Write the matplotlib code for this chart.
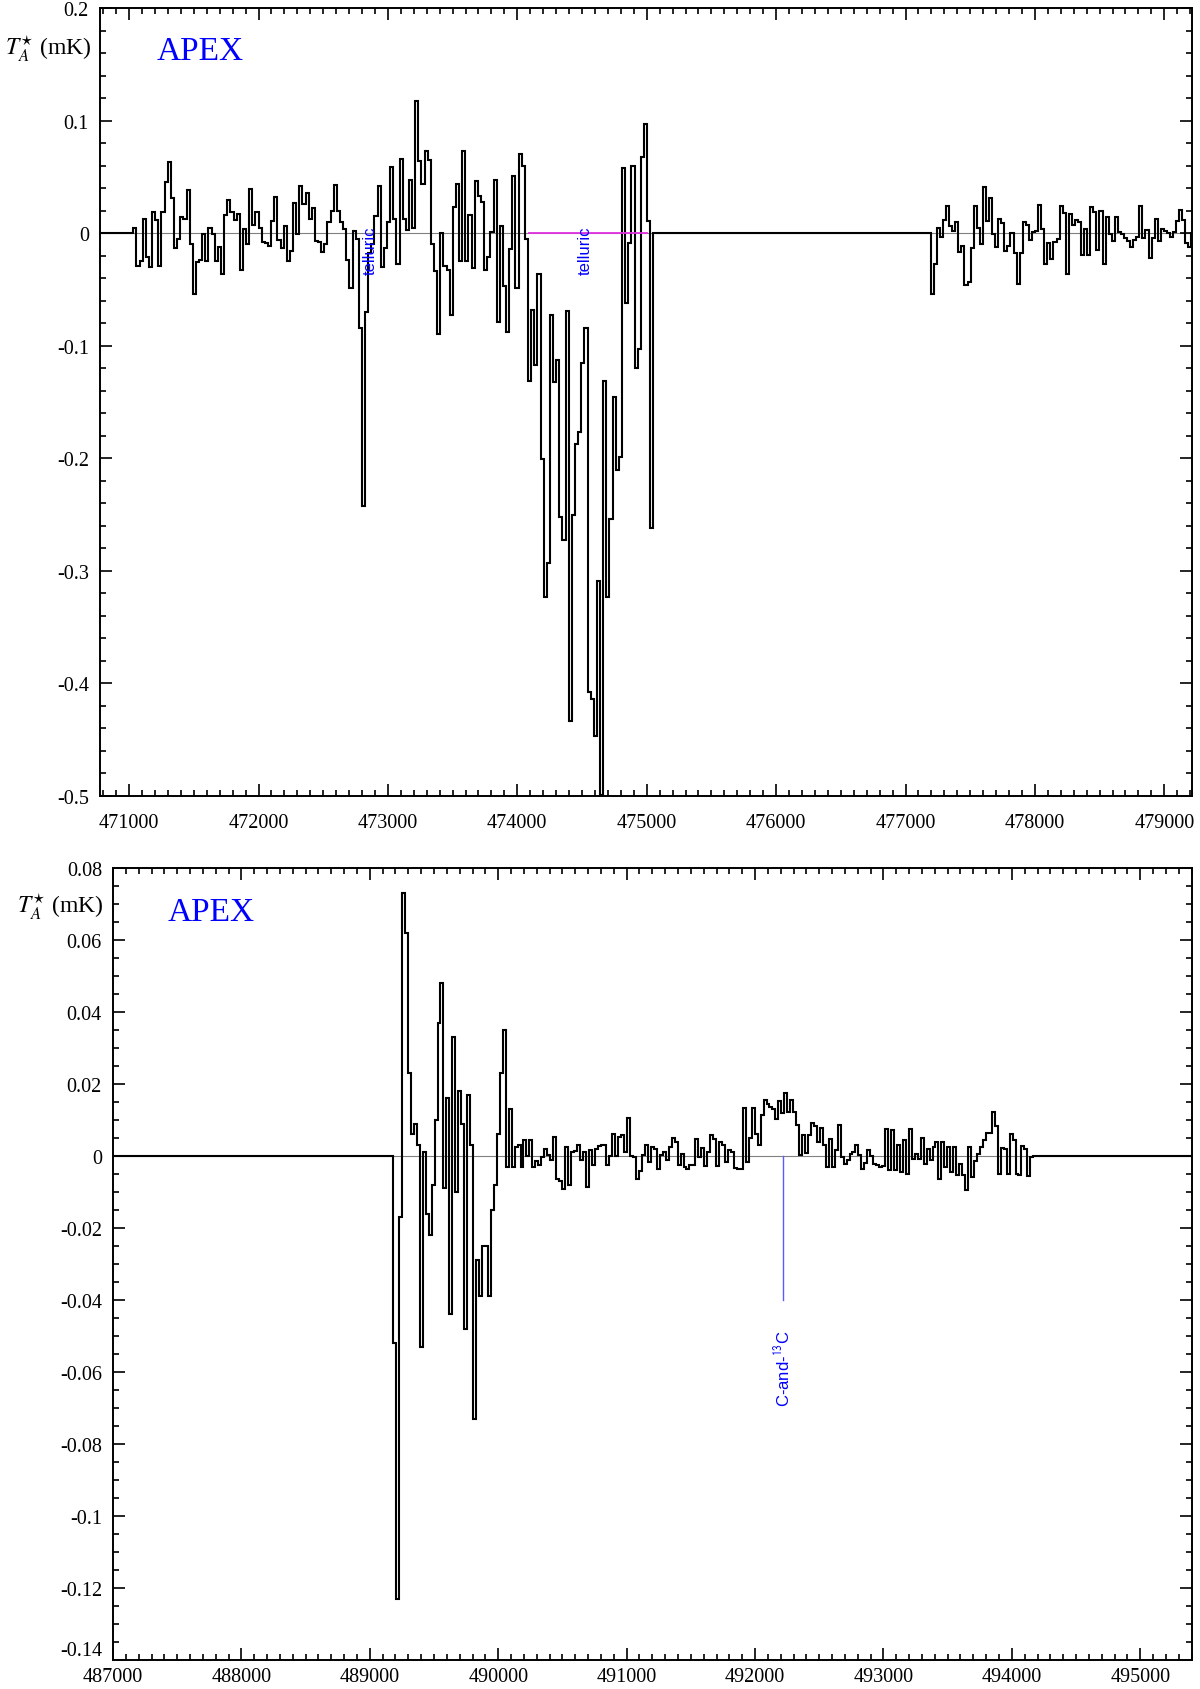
import numpy as np
import matplotlib
matplotlib.use("Agg")
import matplotlib.pyplot as plt
from matplotlib.ticker import MultipleLocator, FuncFormatter

plt.rcParams['font.family'] = ['Liberation Serif', 'DejaVu Serif']
plt.rcParams['mathtext.fontset'] = 'stix'
plt.rcParams['axes.unicode_minus'] = False

# ---------------- data ----------------
# top panel, first block of channels (MHz range and T_A* values)
top_seg1_range = (471032, 475051)
top_seg1_values = [
    0.005, -0.029, -0.025, 0.013, -0.021, -0.030, 0.019, 0.012, -0.029, 0.019,
    0.045, 0.063, 0.031, -0.013, -0.005, 0.014, 0.013, 0.038, -0.010, -0.054,
    -0.026, -0.024, -0.001, -0.025, 0.005, -0.001, -0.025, -0.012, -0.036, 0.016,
    0.029, 0.019, 0.012, 0.017, -0.033, 0.004, -0.010, 0.039, 0.007, 0.019,
    0.005, -0.008, -0.009, -0.011, 0.011, 0.032, -0.006, -0.013, 0.006, -0.025,
    -0.016, 0.027, -0.001, 0.042, 0.026, 0.036, 0.013, 0.022, -0.007, -0.008,
    -0.017, -0.010, 0.010, 0.020, 0.043, 0.020, 0.010, 0.004, -0.024, -0.049,
    0.002, -0.005, -0.084, -0.242, -0.070, -0.018, -0.010, 0.015, 0.042, -0.030,
    -0.013, 0.010, 0.059, 0.013, -0.027, 0.066, 0.013, 0.003, 0.047, 0.005,
    0.117, 0.064, 0.044, 0.073, 0.065, -0.010, -0.034, -0.090, 0.000, -0.029,
    -0.033, -0.073, 0.023, 0.044, -0.025, 0.073, -0.025, 0.016, -0.031, 0.046,
    0.033, 0.028, -0.033, -0.021, 0.001, 0.047, -0.079, 0.006, -0.047, -0.088,
    -0.014, 0.051, -0.049, 0.070, 0.060, -0.005, -0.131, -0.068, -0.117, -0.036,
    -0.201, -0.323, -0.293, -0.073, -0.132, -0.113, -0.252, -0.273, -0.069, -0.433,
    -0.250, -0.187, -0.177, -0.115, -0.084, -0.408, -0.414, -0.447, -0.309, -0.499,
    -0.131, -0.323, -0.254, -0.146, -0.210, -0.199, 0.058, -0.062, -0.009, 0.060,
    -0.120, -0.103, 0.068, 0.097, 0.011, -0.262,
]
# top panel, second block of channels
top_seg2_range = (477195, 479210)
top_seg2_values = [
    -0.054, -0.027, 0.005, -0.003, 0.012, 0.024, 0.006, 0.002, 0.010, -0.017,
    -0.011, -0.046, -0.043, -0.013, 0.024, 0.005, -0.010, 0.041, 0.011, 0.031,
    -0.001, -0.012, 0.013, 0.009, -0.016, -0.011, 0.000, -0.018, -0.045, -0.018,
    0.010, 0.007, -0.006, 0.001, 0.002, 0.025, 0.004, -0.027, -0.009, -0.023,
    -0.008, -0.005, 0.024, 0.018, -0.036, 0.017, 0.007, 0.012, 0.010, -0.019,
    0.004, -0.019, 0.023, 0.019, -0.015, 0.020, -0.027, 0.014, -0.001, -0.007,
    0.014, 0.001, -0.001, -0.004, -0.007, -0.012, -0.006, -0.003, 0.024, -0.004,
    0.003, -0.022, -0.004, 0.013, -0.007, 0.004, 0.002, 0.000, -0.003, 0.001,
    0.011, 0.021, 0.012, -0.009, -0.012,
]
# bottom panel channels
bot_seg_range = (489181, 494167)
bot_seg_values = [
    -0.052, -0.123, -0.017, 0.073, 0.062, 0.023, 0.006, 0.009, 0.003, -0.053,
    0.001, -0.016, -0.022, -0.008, 0.010, 0.037, 0.048, -0.009, 0.016, -0.044,
    0.033, -0.010, 0.018, 0.009, -0.048, 0.017, 0.003, -0.073, -0.029, -0.039,
    -0.025, -0.025, -0.039, -0.015, -0.008, 0.006, 0.023, 0.035,
    -0.003, 0.013, -0.003, 0.0025, 0.003, -0.003, 0.0044, 0.0, 0.0044, -0.003,
    -0.0015, -0.0024, -0.0003, 0.002, 0.0004, -0.0012, 0.0053, -0.0063, -0.007, -0.0091,
    0.0025, -0.0081, 0.0011, 0.0014, 0.003, -0.0012, 0.0011, -0.0086, 0.0016, -0.0026,
    0.002, 0.0028, 0.0031, 0.003, -0.0026, 0.0, 0.0062, 0.0, 0.0053, 0.0057,
    0.0011, 0.0106, 0.0, -0.0003, -0.0063, -0.0043, 0.0004, 0.0031, -0.0017, 0.0025,
    0.002, -0.0035, 0.0002, 0.0011, -0.0012, 0.0025, 0.005, 0.0039, -0.0024, 0.0006,
    -0.0031, -0.0037, -0.0024, -0.0024, 0.0046, -0.0003, 0.0022, -0.0028, 0.0011, 0.0059,
    0.0048, -0.0028, 0.0039, 0.003, -0.0017, 0.0018, 0.0011, -0.0033, -0.0035, -0.0035,
    0.0133, -0.0017, 0.005, 0.0133, 0.0062, 0.003, 0.0115, 0.0156, 0.0145, 0.0136,
    0.0131, 0.0104, 0.0152, 0.012, 0.0176, 0.0122, 0.0155, 0.0122, 0.0085, 0.0002,
    0.0059, 0.0009, 0.0057, 0.0093, 0.0083, 0.0039, 0.0078, 0.0031, -0.0031, 0.0048,
    -0.0031, 0.0016, 0.0087, -0.0003, -0.0021, -0.0012, 0.0006, 0.0011, 0.003, 0.0002,
    -0.0035, -0.0019, 0.0016, 0.0, -0.0021, -0.0026, -0.0031, -0.0028, 0.0074, -0.004,
    0.0071, -0.004, 0.003, -0.0044, 0.0044, -0.0049, 0.0076, -0.0007, 0.0006, -0.0007,
    0.005, -0.0021, 0.002, -0.0012, 0.0025, 0.0039, -0.0063, 0.0039, -0.0031, 0.0025,
    -0.0044, 0.0025, -0.0054, -0.0021, -0.0054, -0.0095, 0.0025, -0.0058, -0.0015, 0.0006,
    0.0025, 0.0044, 0.0064, 0.0064, 0.0122, 0.0083, -0.0049, 0.0022, 0.002, -0.0049,
    0.0062, 0.0044, -0.0049, -0.0054, 0.0028, 0.002, -0.0056, -0.0003,
]

top_xlim = (470775, 479214)
top_ylim = (-0.5, 0.2)
bot_xlim = (487000, 495403)
bot_ylim = (-0.14, 0.08)

telluric_labels = [472866, 474522]
telluric_range = (474089, 475000)
line_label = "C-and-$^{\\mathsf{13}}$C"
line_freq = 492215
line_tip = -0.040

# ---------------- figure ----------------
W, H = 1200, 1690
fig = plt.figure(figsize=(W / 100, H / 100), dpi=100)
ax1 = fig.add_axes([100 / W, 1 - 797 / H, 1092 / W, 788 / H])
ax2 = fig.add_axes([113 / W, 1 - 1661 / H, 1079 / W, 792 / H])

fmt = FuncFormatter(lambda v, p: "%g" % round(v, 6))
fmtx = FuncFormatter(lambda v, p: "%d" % round(v))


def draw_segments(ax, segs, xlim):
    ax.axhline(0, color='#808080', lw=0.8, zorder=1)
    prev = xlim[0]
    for (rng, vals) in segs:
        edges = np.linspace(rng[0], rng[1], len(vals) + 1)
        ax.plot([prev, rng[0]], [0, 0], color='black', lw=1.5, zorder=3)
        ax.stairs(vals, edges, baseline=0, color='black', lw=1.5, zorder=3)
        prev = rng[1]
    ax.plot([prev, xlim[1]], [0, 0], color='black', lw=1.5, zorder=3)


def style(ax, xlim, ylim, xmaj, xmin, ymaj, ymin, xpad):
    ax.set_xlim(*xlim)
    ax.set_ylim(*ylim)
    ax.xaxis.set_major_locator(MultipleLocator(xmaj))
    ax.xaxis.set_minor_locator(MultipleLocator(xmin))
    ax.yaxis.set_major_locator(MultipleLocator(ymaj))
    ax.yaxis.set_minor_locator(MultipleLocator(ymin))
    ax.xaxis.set_major_formatter(fmtx)
    ax.yaxis.set_major_formatter(fmt)
    ax.tick_params(which='both', direction='in', top=True, right=True,
                   width=1.2, labelsize=14.5, colors='black')
    ax.tick_params(which='major', length=8.5)
    ax.tick_params(which='minor', length=4.3)
    ax.tick_params(axis='y', which='major', pad=8)
    ax.tick_params(axis='x', which='major', pad=xpad)
    for s in ax.spines.values():
        s.set_linewidth(1.4)


draw_segments(ax1, [(top_seg1_range, top_seg1_values),
                    (top_seg2_range, top_seg2_values)], top_xlim)
style(ax1, top_xlim, top_ylim, 1000, 100, 0.1, 0.02, 12)

ax1.plot(list(telluric_range), [0, 0], color='#e030e0', lw=1.3, zorder=4)
for f in telluric_labels:
    ax1.text(f, 0.007, "telluric", rotation=90, ha='center', va='top',
             color='blue', fontsize=12, family=['Liberation Sans', 'DejaVu Sans'],
             zorder=5)

draw_segments(ax2, [(bot_seg_range, bot_seg_values)], bot_xlim)
style(ax2, bot_xlim, bot_ylim, 1000, 100, 0.02, 0.005, 5)
ax2.plot([line_freq, line_freq], [0, line_tip], color='#5a5aff', lw=1.0, zorder=4)
ax2.text(line_freq, -0.048, line_label, rotation=90, ha='center', va='top',
         color='blue', fontsize=12, family=['Liberation Sans', 'DejaVu Sans'])

# panel annotations
fig.text(157 / W, 1 - 60 / H, "APEX", color='blue', fontsize=24, va='baseline')
fig.text(168 / W, 1 - 921 / H, "APEX", color='blue', fontsize=24, va='baseline')
fig.text(5 / W, 1 - 55 / H, r"$T_A^{\star}$ (mK)", fontsize=17, va='baseline')
fig.text(17 / W, 1 - 913 / H, r"$T_A^{\star}$ (mK)", fontsize=17, va='baseline')

# keep the lowest y label of the bottom panel clear of the x labels below it
fig.canvas.draw()
for t in ax2.yaxis.get_major_ticks():
    if abs(t.get_loc() - bot_ylim[0]) < 1e-9:
        t.label1.set_verticalalignment('bottom')

fig.savefig("out.png", dpi=100)
